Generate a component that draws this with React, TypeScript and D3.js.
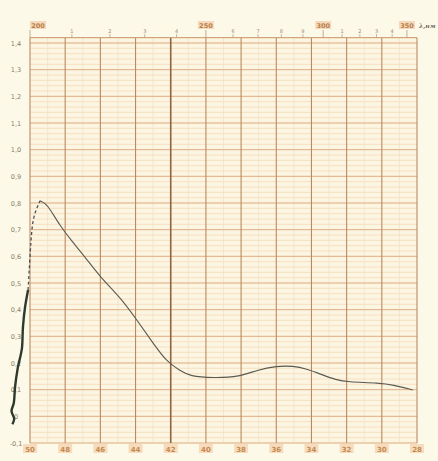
import React from 'react'
import * as d3 from 'd3'

// wavenumber, thousands of cm^-1 (bottom scale)
const waveTicks = [50, 48, 46, 44, 42, 40, 38, 36, 34, 32, 30, 28]
// wavelength, nm (top scale)
const nmMajor = [200, 250, 300, 350]
const nmMinor = [210, 220, 230, 240, 260, 270, 280, 290, 310, 320, 330, 340]
const yTicks = [1.4, 1.3, 1.2, 1.1, 1.0, 0.9, 0.8, 0.7, 0.6, 0.5, 0.4, 0.3, 0.2, 0.1, 0, -0.1]

// recorder trace [wavenumber, absorbance]
const tail: [number, number][] = [
  [51.0, -0.03], [50.9, -0.01], [51.05, 0.02], [50.92, 0.05], [50.85, 0.11],
  [50.7, 0.18], [50.45, 0.26], [50.4, 0.335], [50.28, 0.41], [50.11, 0.474],
]
const rise: [number, number][] = [
  [50.11, 0.474], [50.0, 0.6], [49.89, 0.717], [49.72, 0.766], [49.43, 0.808],
]
const trace: [number, number][] = [
  [49.43, 0.808], [49.15, 0.8], [48.86, 0.778], [48.3, 0.715], [47.6, 0.655],
  [46.9, 0.6], [46.02, 0.523], [44.89, 0.448], [43.92, 0.361], [43.01, 0.275], [42.22, 0.204],
  [41.48, 0.172], [40.91, 0.15], [39.6, 0.144], [38.07, 0.148], [37.1, 0.174],
  [35.97, 0.189], [35.06, 0.189], [34.26, 0.178], [33.52, 0.159], [32.56, 0.136],
  [31.99, 0.129], [30.11, 0.125], [29.38, 0.118], [28.24, 0.099],
]

const W = 438, H = 461

export default function App() {
  const x = d3.scaleLinear().domain([50, 28]).range([30, 417])
  const y = d3.scaleLinear().domain([-0.1, 1.4]).range([443, 43])
  const top = y(1.42)

  const line = d3.line<[number, number]>()
    .x(d => x(d[0]))
    .y(d => y(d[1]))
    .curve(d3.curveMonotoneY)
  const smooth = d3.line<[number, number]>()
    .x(d => x(d[0]))
    .y(d => y(d[1]))
    .curve(d3.curveBasis)

  const minorY = d3.range(-5, 72).map(i => i * 0.02)
  const minorX = d3.range(29, 50, 2)
  const nmToK = (nm: number) => 10000 / nm

  return (
    <svg width={W} height={H} style={{ position: 'absolute', left: 0, top: 0 }}>
      <rect width={W} height={H} fill="#fdf9e8" />
      <rect x={x(50)} y={top} width={x(28) - x(50)} height={y(-0.1) - top} fill="#fcf5e2" />

      {/* minor grid */}
      {minorY.map((v, i) => (
        <line key={'my' + i} x1={x(50)} x2={x(28)} y1={y(v)} y2={y(v)}
          stroke="#f1d3ae" strokeWidth={0.6} />
      ))}
      {minorX.map(v => (
        <line key={'mx' + v} x1={x(v)} x2={x(v)} y1={top} y2={y(-0.1)}
          stroke="#f2dcc0" strokeWidth={0.6} />
      ))}
      {/* major grid */}
      {yTicks.map(v => (
        <line key={'y' + v} x1={x(50)} x2={x(28)} y1={y(v)} y2={y(v)}
          stroke="#e0ad80" strokeWidth={0.9} />
      ))}
      {waveTicks.map(v => (
        <line key={'x' + v} x1={x(v)} x2={x(v)} y1={top} y2={y(-0.1)}
          stroke={v === 42 ? '#8e6440' : '#b98a62'} strokeWidth={v === 42 ? 1.6 : 1.1} />
      ))}
      <line x1={x(50)} x2={x(28)} y1={top} y2={top} stroke="#c99a6c" strokeWidth={1} />

      {/* left scale */}
      {yTicks.map(v => (
        <text key={'yl' + v} x={16} y={y(v) + 2.5} textAnchor="middle" fontSize={6.5}
          fontFamily="DejaVu Sans" fill="#857c68">
          {v < 0 ? '-0,1' : v === 0 ? '0' : v.toFixed(1).replace('.', ',')}
        </text>
      ))}

      {/* bottom scale */}
      {waveTicks.map(v => (
        <g key={'xl' + v}>
          <rect x={x(v) - 7} y={444} width={14} height={9} fill="#f6dcbc" />
          <text x={x(v)} y={451.5} textAnchor="middle" fontSize={7} fontFamily="DejaVu Sans"
            fontWeight="bold" fill="#c58a52">{v}</text>
        </g>
      ))}

      {/* top scale, nm */}
      {nmMinor.map(v => (
        <g key={'nm' + v}>
          <line x1={x(nmToK(v))} x2={x(nmToK(v))} y1={34} y2={top} stroke="#b99878" strokeWidth={0.7} />
          <text x={x(nmToK(v))} y={33} textAnchor="middle" fontSize={5} fontFamily="DejaVu Sans"
            fill="#9a8a72">{(v / 10) % 10}</text>
        </g>
      ))}
      {nmMajor.map((v, i) => (
        <g key={'nmM' + v}>
          <rect x={x(nmToK(v)) - (i === 0 ? 0 : 8)} y={21} width={16} height={8} fill="#f5d9bd" />
          <text x={x(nmToK(v)) + (i === 0 ? 8 : 0)} y={27.5} textAnchor="middle" fontSize={6.5}
            fontFamily="DejaVu Sans" fontWeight="bold" fill="#b98048">{v}</text>
          <line x1={x(nmToK(v))} x2={x(nmToK(v))} y1={30} y2={top} stroke="#b99878" strokeWidth={0.8} />
        </g>
      ))}
      <text x={419} y={28} fontSize={6} fontStyle="italic" fontWeight="bold"
        fontFamily="DejaVu Serif" fill="#6e6a60">λ,нм</text>

      {/* recorder trace */}
      <path d={line(tail) ?? ''} fill="none" stroke="#2f3a2c" strokeWidth={2.4} />
      <path d={smooth(rise) ?? ''} fill="none" stroke="#4a4e58" strokeWidth={1.3} strokeDasharray="3 2.5" />
      <path d={smooth(trace) ?? ''} fill="none" stroke="#5a5a52" strokeWidth={1.1} />
    </svg>
  )
}
